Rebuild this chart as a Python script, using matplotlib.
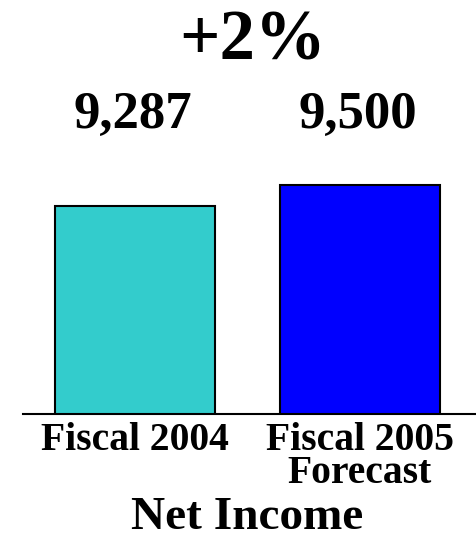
import matplotlib
matplotlib.use("Agg")
import matplotlib.pyplot as plt
import matplotlib.transforms as mtransforms

categories = ["Fiscal 2004", "Fiscal 2005\nForecast"]
values = [9287, 9500]
value_labels = ["9,287", "9,500"]
colors = ["#33CCCC", "#0000FF"]
change_label = "+2%"
title = "Net Income"

W, H = 476, 540
plt.rcParams["font.family"] = ["Liberation Serif", "DejaVu Serif"]
plt.rcParams["font.weight"] = "bold"

fig = plt.figure(figsize=(W / 100, H / 100), dpi=100)
# axes in pixel terms: left 23, right 476, bottom at y=414, top at y=170
ax = fig.add_axes([23 / W, (H - 414) / H, (W - 23) / W, (414 - 170) / H])

x = [0, 1]
ax.bar(x, values, width=160 / 225, color=colors, edgecolor="black", linewidth=1.5)

ymin = 7180
px_per_unit = 208 / (values[0] - ymin)
ax.set_ylim(ymin, ymin + (414 - 170) / px_per_unit)
ax.set_xlim(-(135 - 23) / 225, 1 + (476 - 360) / 225)

for s in ["top", "left", "right"]:
    ax.spines[s].set_visible(False)
ax.spines["bottom"].set_linewidth(1.5)
ax.set_yticks([])
ax.set_xticks(x)
ax.set_xticklabels(categories, fontsize=28.5, fontweight="bold", linespacing=0.85)
ax.tick_params(axis="x", length=0, pad=6)

trans = mtransforms.blended_transform_factory(ax.transData, fig.transFigure)
for xi, lab in zip(x, value_labels):
    ax.text(xi - 0.01, (H - 128) / H, lab, transform=trans, ha="center", va="baseline",
            fontsize=38, fontweight="bold")

fig.text(253 / W, (H - 60) / H, change_label, ha="center", va="baseline",
         fontsize=51, fontweight="bold")
fig.text(247 / W, (H - 529) / H, title, ha="center", va="baseline",
         fontsize=34, fontweight="bold")

fig.savefig("out.png", dpi=100)
